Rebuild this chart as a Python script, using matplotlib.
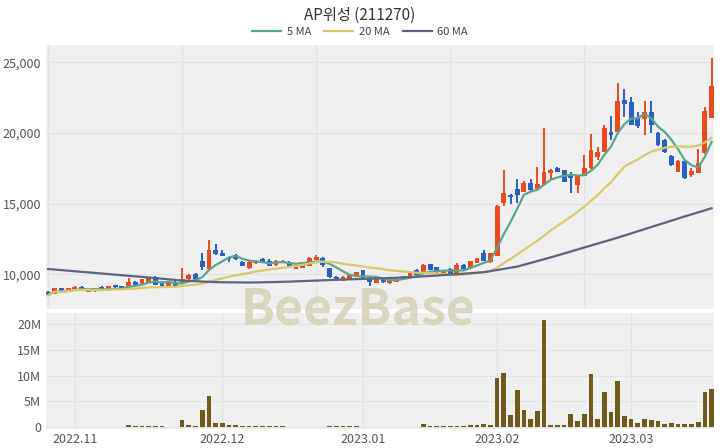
import matplotlib.pyplot as plt
import numpy as np
import pandas as pd

plt.rcParams['font.family'] = ['Noto Sans CJK KR', 'DejaVu Sans']

title = 'AP위성 (211270)'

# daily candles, 2022-10-26 .. 2023-03-20 (trading days)
opens = [8770, 8600, 9000, 8820, 8900, 9120, 8780, 8800, 9120, 8890,
         9240, 9170, 9120, 9480, 9310, 9480, 9800, 9480, 9170, 9480,
         9400, 9650, 10050, 10950, 10400, 11720, 11530, 11200, 11370, 10900,
         10430, 10780, 11080, 10940, 10640, 10800, 10900, 10380, 10470, 10590,
         11010, 11130, 10420, 9830, 9550, 9670, 9880, 10300, 9760, 9400,
         9720, 9360, 9480, 9650, 9830, 10300, 10140, 10710, 10500, 9970,
         10380, 10000, 10660, 10430, 10820, 11490, 10850, 11320, 15080, 15620,
         16030, 15860, 16450, 16030, 16330, 17160, 17560, 17390, 16970, 16330,
         16970, 17510, 18340, 18690, 20110, 20110, 22360, 22170, 21060, 21000,
         21470, 20000, 19520, 18390, 17270, 18050, 17040, 17200, 18580, 21060]
highs = [8800, 9050, 9050, 9050, 9150, 9150, 8950, 8950, 9150, 9200,
         9280, 9200, 9710, 9520, 9680, 9820, 9850, 9520, 9500, 9520,
         10450, 10000, 10100, 11500, 12450, 12150, 11720, 11230, 11440, 10950,
         10990, 10990, 11150, 11090, 11000, 10990, 10950, 10700, 10900, 11250,
         11400, 11200, 10450, 9900, 9850, 10050, 10200, 10320, 9800, 9750,
         9750, 9620, 9790, 9900, 10170, 10400, 10700, 10760, 10550, 10290,
         10420, 10800, 10700, 10980, 11150, 11720, 11520, 14900, 17390, 15700,
         16730, 16610, 16720, 17580, 20350, 17450, 17600, 17420, 17270, 17000,
         18460, 19930, 19000, 20590, 21230, 23540, 23120, 22520, 21520, 22280,
         22240, 20100, 19600, 18450, 18100, 18100, 17500, 18900, 21880, 25310]
lows = [8450, 8580, 8750, 8800, 8880, 8880, 8750, 8780, 8820, 8870,
        9050, 8920, 9100, 9220, 9290, 9460, 9240, 9150, 9150, 9150,
        9300, 9620, 9650, 10300, 10300, 11400, 11280, 10870, 11050, 10580,
        10400, 10760, 10880, 10570, 10620, 10780, 10580, 10350, 10450, 10570,
        10990, 10540, 9770, 9580, 9530, 9650, 9860, 9700, 9170, 9380,
        9400, 9340, 9460, 9630, 9810, 9930, 10120, 10280, 10120, 9950,
        10000, 9980, 10330, 10410, 10800, 10940, 10830, 11300, 14860, 14980,
        15080, 15840, 15860, 16000, 16300, 16730, 17250, 16560, 15740, 15740,
        16950, 17490, 18100, 18670, 19520, 20090, 21120, 20590, 20350, 19870,
        19990, 19100, 18600, 17700, 17250, 16750, 16900, 17150, 18550, 21040]
closes = [8530, 9010, 8770, 9000, 9120, 8890, 8900, 8900, 8840, 9170,
          9080, 8940, 9480, 9240, 9650, 9790, 9260, 9170, 9480, 9170,
          9700, 9950, 9680, 10500, 11700, 11440, 11300, 11060, 11080, 10600,
          10850, 10940, 10900, 10590, 10960, 10940, 10600, 10660, 10850, 11180,
          11250, 10660, 9790, 9600, 9790, 10020, 10180, 9720, 9480, 9700,
          9430, 9600, 9760, 9880, 10140, 9950, 10660, 10300, 10140, 10260,
          10020, 10660, 10350, 10960, 11130, 10960, 11490, 14860, 15780, 15460,
          15620, 16450, 15980, 16400, 17270, 17390, 17270, 16560, 16800, 16970,
          17500, 18810, 18690, 20350, 19880, 22240, 22050, 20590, 20510, 21470,
          20590, 19170, 18690, 17750, 18050, 16800, 17340, 17900, 21530, 23300]
volumes = [0.05, 0.05, 0.05, 0.05, 0.05, 0.05, 0.05, 0.05, 0.05, 0.05,
           0.05, 0.05, 0.3, 0.15, 0.15, 0.15, 0.15, 0.15, 0.05, 0.05,
           1.4, 0.3, 0.1, 3.25, 6.0, 0.8, 0.8, 0.45, 0.45, 0.2,
           0.2, 0.2, 0.2, 0.2, 0.2, 0.2, 0.05, 0.05, 0.05, 0.05,
           0.05, 0.05, 0.15, 0.15, 0.15, 0.15, 0.15, 0.05, 0.05, 0.05,
           0.05, 0.05, 0.05, 0.05, 0.05, 0.05, 0.6, 0.1, 0.1, 0.1,
           0.1, 0.25, 0.1, 0.3, 0.3, 0.6, 0.35, 9.55, 10.5, 2.35,
           7.2, 3.3, 1.55, 3.05, 20.85, 0.45, 0.35, 0.35, 2.5, 1.1,
           2.5, 10.3, 1.45, 6.75, 2.85, 8.9, 2.1, 1.55, 0.75, 1.55,
           1.4, 1.1, 0.6, 0.75, 0.65, 0.55, 0.55, 1.0, 6.75, 7.4]

# 60-day average (needs history before the window)
ma60_idx = [0, 5, 10, 15, 20, 25, 30, 35, 40, 45, 50, 55, 60, 65, 70, 75, 80, 85, 90, 95, 99]
ma60_val = [10380, 10180, 9980, 9780, 9560, 9450, 9420, 9470, 9560, 9650, 9720,
            9830, 9980, 10150, 10550, 11200, 11900, 12600, 13350, 14100, 14680]

month_idx = [4, 26, 47, 67, 87]
month_labels = ['2022.11', '2022.12', '2023.01', '2023.02', '2023.03']

up_color = '#ec4a1c'
down_color = '#2a5fc4'
bg = '#f0f0f0'
grid_c = '#e3e3e3'

o = np.array(opens)
c = np.array(closes)
x = np.arange(len(o))
s = pd.Series(closes, dtype=float)
ma5 = s.rolling(5, min_periods=1).mean()
ma20 = s.rolling(20, min_periods=1).mean()

fig = plt.figure(figsize=(7.2, 4.48), dpi=100)
ax = fig.add_axes([0.064, 0.31, 0.928, 0.59])
axv = fig.add_axes([0.064, 0.042, 0.928, 0.259])

for a in (ax, axv):
    a.set_facecolor(bg)
    for sp in a.spines.values():
        sp.set_visible(False)
    a.tick_params(length=0, colors='#555555', labelsize=9)
    a.set_xlim(-0.3, 99.4)
    a.set_axisbelow(True)

# price panel
colors = [up_color if cc >= oo else down_color for oo, cc in zip(opens, closes)]
ax.vlines(x, lows, highs, colors=colors, linewidth=1.4, zorder=2)
body = np.maximum(np.abs(c - o), 50)
ax.bar(x, body, bottom=np.minimum(o, c), width=0.72, color=colors, zorder=3)
ax.plot(x, ma5, color='#5aa58c', lw=1.6, zorder=4, label='5 MA')
ax.plot(x, ma20, color='#d8c86c', lw=1.6, zorder=4, label='20 MA')
ax.plot(ma60_idx, ma60_val, color='#5b6480', lw=1.6, zorder=4, label='60 MA')
ax.set_ylim(7540, 26250)
ax.set_yticks([10000, 15000, 20000, 25000])
ax.set_yticklabels(['10,000', '15,000', '20,000', '25,000'])
ax.set_xticks([0, 20, 40, 60, 80])
ax.set_xticklabels([])
ax.grid(True, color=grid_c, lw=0.9)

# volume panel
axv.bar(x, np.array(volumes) * 1e6, width=0.7, color='#6f5a1a', zorder=3)
axv.set_ylim(-0.45e6, 22.2e6)
axv.set_yticks([0, 5e6, 10e6, 15e6, 20e6])
axv.set_yticklabels(['0', '5M', '10M', '15M', '20M'])
axv.set_xticks(month_idx)
axv.set_xticklabels(month_labels)
axv.tick_params(axis='x', pad=3)
axv.grid(True, color=grid_c, lw=0.9)

fig.text(0.5, 0.965, title, ha='center', va='center', fontsize=11, color='#333333')
fig.legend(loc='center', bbox_to_anchor=(0.5, 0.928), ncol=3, frameon=False,
           fontsize=8, handlelength=2.6, columnspacing=1.2, handletextpad=0.5,
           labelcolor='#444444')
fig.text(0.497, 0.308, 'BeezBase', ha='center', va='center', fontsize=36,
         fontweight='bold', color='#d6d0b6', alpha=0.85, zorder=1)

fig.savefig('out.png', dpi=100)
